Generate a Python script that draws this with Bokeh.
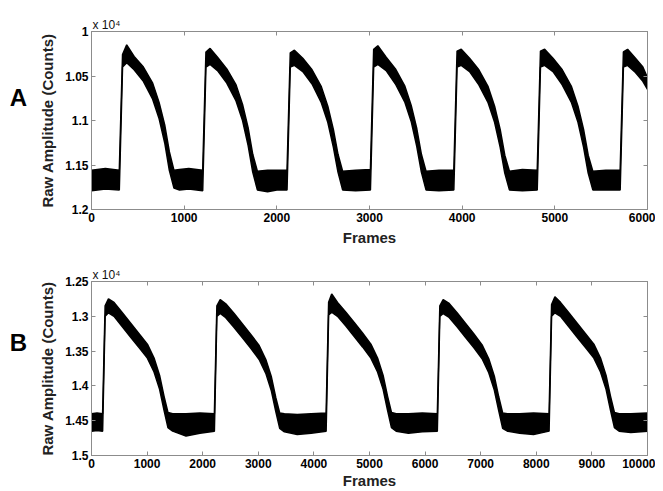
from bokeh.plotting import figure
from bokeh.models import Range1d, FixedTicker, LinearAxis, Label, Title
from bokeh.layouts import column, row
from bokeh.embed import file_html
from bokeh.resources import INLINE

# ---------------- Panel A data (frames vs raw counts, noise envelope) ----------------
frames_A = [0, 150, 300, 335, 380, 460, 560, 660, 730, 790, 840, 890, 950, 1050, 1200,
            1235, 1280, 1360, 1460, 1560, 1630, 1690, 1740, 1790, 1900, 2000, 2110,
            2145, 2190, 2280, 2380, 2480, 2550, 2610, 2660, 2710, 2850, 3010,
            3045, 3090, 3180, 3280, 3380, 3450, 3510, 3560, 3610, 3750, 3910,
            3945, 3990, 4080, 4180, 4280, 4350, 4410, 4460, 4510, 4650, 4810,
            4845, 4890, 4980, 5080, 5180, 5250, 5310, 5360, 5410, 5550, 5705,
            5740, 5785, 5870, 5950, 6000]
lo_A = [11560, 11540, 11560, 10260, 10150, 10280, 10400, 10580, 10800, 11050, 11350, 11560, 11550, 11540, 11560,
        10230, 10190, 10290, 10420, 10600, 10820, 11080, 11380, 11570, 11560, 11560, 11560,
        10240, 10210, 10300, 10430, 10620, 10840, 11100, 11380, 11570, 11560, 11550,
        10200, 10160, 10290, 10420, 10610, 10830, 11090, 11380, 11570, 11560, 11560,
        10220, 10200, 10300, 10430, 10620, 10840, 11100, 11390, 11570, 11550, 11560,
        10220, 10200, 10300, 10430, 10620, 10840, 11100, 11390, 11570, 11560, 11560,
        10230, 10200, 10300, 10400, 10520]
hi_A = [11790, 11770, 11780, 10400, 10350, 10430, 10560, 10760, 10980, 11250, 11560, 11760, 11780, 11770, 11790,
        10400, 10370, 10440, 10580, 10780, 11000, 11280, 11580, 11780, 11800, 11780, 11780,
        10400, 10380, 10450, 10590, 10800, 11020, 11300, 11580, 11780, 11790, 11780,
        10400, 10370, 10440, 10590, 10790, 11010, 11290, 11580, 11780, 11790, 11780,
        10400, 10380, 10450, 10600, 10800, 11020, 11300, 11590, 11780, 11790, 11780,
        10400, 10380, 10450, 10600, 10800, 11020, 11300, 11590, 11780, 11780, 11780,
        10400, 10380, 10460, 10560, 10650]
xticks_A = [0, 1000, 2000, 3000, 4000, 5000, 6000]
yticks_A = [10000, 10500, 11000, 11500, 12000]
ylabels_A = ["1", "1.05", "1.1", "1.15", "1.2"]

# ---------------- Panel B data ----------------
frames_B = [0, 100, 200, 245, 305, 405, 555, 705, 855, 1005, 1125, 1225, 1305, 1375, 1460, 1700, 1950, 2210,
            2255, 2315, 2415, 2565, 2715, 2865, 3015, 3135, 3235, 3315, 3385, 3470, 3700, 3950, 4220,
            4265, 4320, 4425, 4575, 4725, 4875, 5025, 5145, 5245, 5325, 5395, 5480, 5700, 5950, 6220,
            6265, 6325, 6425, 6575, 6725, 6875, 7025, 7145, 7245, 7325, 7395, 7480, 7700, 7950, 8230,
            8275, 8335, 8435, 8585, 8735, 8885, 9035, 9155, 9255, 9335, 9405, 9490, 9700, 10000]
lo_B = [14400, 14390, 14400, 12850, 12750, 12800, 12950, 13100, 13250, 13400, 13600, 13850, 14150, 14380, 14400, 14400, 14390, 14400,
        12850, 12760, 12820, 12960, 13110, 13260, 13420, 13620, 13870, 14170, 14390, 14400, 14410, 14400, 14390,
        12800, 12680, 12800, 12940, 13090, 13240, 13400, 13600, 13850, 14150, 14380, 14400, 14400, 14390, 14400,
        12850, 12760, 12810, 12950, 13100, 13250, 13410, 13610, 13860, 14160, 14390, 14400, 14400, 14390, 14400,
        12830, 12720, 12800, 12950, 13100, 13250, 13400, 13600, 13850, 14150, 14380, 14400, 14400, 14390]
hi_B = [14650, 14640, 14650, 13000, 12950, 13000, 13150, 13300, 13450, 13600, 13800, 14050, 14350, 14600, 14650, 14720, 14680, 14650,
        13000, 12960, 13020, 13160, 13310, 13460, 13620, 13820, 14070, 14370, 14610, 14660, 14700, 14680, 14650,
        12980, 12940, 13000, 13140, 13290, 13440, 13600, 13800, 14050, 14350, 14600, 14650, 14680, 14660, 14650,
        13000, 12960, 13010, 13150, 13300, 13450, 13610, 13810, 14060, 14360, 14610, 14650, 14680, 14700, 14650,
        13000, 12950, 13000, 13150, 13300, 13450, 13600, 13800, 14050, 14350, 14600, 14650, 14670, 14650]
xticks_B = [0, 1000, 2000, 3000, 4000, 5000, 6000, 7000, 8000, 9000, 10000]
yticks_B = [12500, 13000, 13500, 14000, 14500, 15000]
ylabels_B = ["1.25", "1.3", "1.35", "1.4", "1.45", "1.5"]

FONT = "Liberation Sans"
GRAY = "#8c8c8c"
LETTER_W = 36


def style_axis(ax, show_labels=True):
    ax.major_tick_in = 4
    ax.major_tick_out = 0
    ax.minor_tick_line_color = None
    ax.axis_line_color = GRAY
    ax.major_tick_line_color = GRAY
    ax.major_label_standoff = 3
    ax.major_label_text_font = FONT
    ax.major_label_text_font_style = "bold"
    ax.major_label_text_color = "black"
    if show_labels:
        ax.major_label_text_font_size = "12px"
    else:
        ax.major_label_text_font_size = "0px"
        ax.major_label_text_alpha = 0


def letter_fig(letter, height, y_above_frame_bottom):
    f = figure(width=LETTER_W, height=height, output_backend="svg", toolbar_location=None,
               x_axis_type=None, y_axis_type=None,
               x_range=Range1d(0, LETTER_W), y_range=Range1d(0, height),
               min_border=0)
    f.grid.visible = False
    f.outline_line_color = None
    f.add_layout(Label(x=LETTER_W / 2, y=y_above_frame_bottom, x_units="screen", y_units="screen",
                       text=letter, text_font=FONT, text_font_style="bold", text_font_size="24px",
                       text_align="center", text_baseline="middle", text_color="black"))
    return f


def panel(frames, lo, hi, xticks, yticks, ylabels, height, bt, bb, xstand):
    p = figure(width=655 - LETTER_W, height=height, output_backend="svg", toolbar_location=None,
               x_range=Range1d(xticks[0], xticks[-1]),
               y_range=Range1d(yticks[-1], yticks[0]),
               min_border_left=91 - LETTER_W, min_border_right=8,
               min_border_top=bt, min_border_bottom=bb)
    p.title.text = ""
    p.grid.visible = False
    p.outline_line_color = GRAY
    p.background_fill_color = "white"
    p.border_fill_color = "white"

    p.varea(x=frames, y1=lo, y2=hi, fill_color="black")
    p.line(x=frames, y=lo, line_color="black", line_width=1.5)
    p.line(x=frames, y=hi, line_color="black", line_width=1.5)

    xt = FixedTicker(ticks=xticks)
    yt = FixedTicker(ticks=yticks)
    overrides = {t: s for t, s in zip(yticks, ylabels)}

    p.xaxis.ticker = xt
    p.yaxis.ticker = yt
    p.yaxis.major_label_overrides = overrides
    for ax in p.xaxis + p.yaxis:
        style_axis(ax)
    p.xaxis.axis_label = "Frames"
    p.yaxis.axis_label = "Raw Amplitude (Counts)"
    for ax in p.xaxis + p.yaxis:
        ax.axis_label_text_font = FONT
        ax.axis_label_text_font_style = "bold"
        ax.axis_label_text_font_size = "15px"
        ax.axis_label_text_color = "#222222"
    p.xaxis.axis_label_standoff = xstand
    p.yaxis.axis_label_standoff = 6

    right = LinearAxis(ticker=yt)
    style_axis(right, show_labels=False)
    p.add_layout(right, "right")
    top = LinearAxis(ticker=xt)
    style_axis(top, show_labels=False)
    p.add_layout(top, "above")

    # exponent note above the top-left corner of the frame
    p.add_layout(Title(text="x 10\u2074", align="left", offset=1, standoff=0,
                       text_font=FONT, text_font_size="12px", text_font_style="normal",
                       text_color="#111111"), "above")
    return p


pA = panel(frames_A, lo_A, hi_A, xticks_A, yticks_A, ylabels_A, 258, 31, 49, 4)
pB = panel(frames_B, lo_B, hi_B, xticks_B, yticks_B, ylabels_B, 233, 23, 35, 1)
lA = letter_fig("A", 258, 112)
lB = letter_fig("B", 233, 113)

layout = column(row(lA, pA), row(lB, pB))
open("out.html", "w").write(file_html(layout, INLINE))
